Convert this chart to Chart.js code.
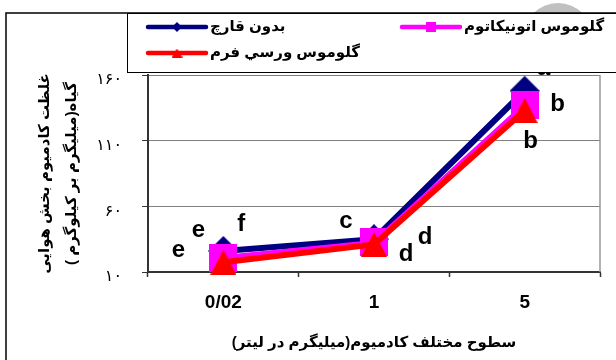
<!DOCTYPE html>
<html>
<head>
<meta charset="utf-8">
<style>
  html, body { margin: 0; padding: 0; background: #fff; }
</style>
<script src="https://cdn.jsdelivr.net/npm/chart.js@4.4.0/dist/chart.umd.min.js"></script>
</head>
<body>
<canvas id="chart" width="616" height="360"></canvas>
<script>
// data
const categories = ['0/02', '1', '5'];
const seriesNames = ['بدون قارچ', 'گلوموس اتونیکاتوم', 'گلوموس ورسي فرم'];
const noFungus = [26, 35, 148];
const etunicatum = [21, 32.5, 137];
const versiforme = [17.5, 31, 133];
const lettersNoFungus = ['f', 'c', 'a'];
const lettersEtunicatum = ['e', 'd', 'b'];
const lettersVersiforme = ['e', 'd', 'b'];
const yTicks = [10, 60, 110, 160];
const yTickLabels = ['۱۰', '۶۰', '۱۱۰', '۱۶۰'];
const xTitle = 'سطوح مختلف کادمیوم(میلیگرم در لیتر)';
const yTitle = ['غلظت کادمیوم بخش هوایی', 'گیاه(میلیگرم بر کیلوگرم )'];

const FONT = "'Liberation Sans', Arial, 'DejaVu Sans', sans-serif";
const colors = ['#000080', '#FF00FF', '#FF0000'];

// letter offsets from each point (px)
const letterOffsets = [
  [[18, -27], [-28, -18], [19, -22]],
  [[-25, -27], [51, -5], [33, -1]],
  [[-45, -12], [32, 10], [6, 31]]
];

function marker(kind, color, w, h) {
  const c = document.createElement('canvas');
  c.width = w; c.height = h;
  const g = c.getContext('2d');
  g.fillStyle = color;
  g.beginPath();
  if (kind === 'diamond') {
    g.moveTo(w / 2, 0); g.lineTo(w, h / 2); g.lineTo(w / 2, h); g.lineTo(0, h / 2);
  } else if (kind === 'square') {
    g.rect(0, 0, w, h);
  } else {
    g.moveTo(w / 2, 0); g.lineTo(w, h); g.lineTo(0, h);
  }
  g.closePath();
  g.fill();
  return c;
}

const bigMarkers = [
  marker('diamond', colors[0], 30, 30),
  marker('square', colors[1], 28, 28),
  marker('triangle', colors[2], 26, 25)
];
const smallMarkers = [
  marker('diamond', colors[0], 10, 10),
  marker('square', colors[1], 10, 10),
  marker('triangle', colors[2], 11, 9)
];

const frame = {
  id: 'frame',
  beforeDraw(chart) {
    const c = chart.ctx;
    c.save();
    c.fillStyle = '#fff';
    c.fillRect(0, 0, chart.width, chart.height);
    c.fillStyle = '#c0c0c0';
    c.beginPath();
    c.arc(558, 38, 35, 0, Math.PI * 2);
    c.fill();
    c.fillStyle = '#fff';
    c.fillRect(6, 13, chart.width, chart.height);
    c.strokeStyle = '#000';
    c.lineWidth = 1.5;
    c.beginPath();
    c.moveTo(6, chart.height);
    c.lineTo(6, 13);
    c.lineTo(chart.width, 13);
    c.stroke();
    c.restore();
  },
  beforeDatasetsDraw(chart) {
    const a = chart.chartArea, c = chart.ctx;
    c.save();
    c.strokeStyle = '#999';
    c.lineWidth = 1.5;
    c.beginPath();
    c.moveTo(a.right, a.top);
    c.lineTo(a.right, a.bottom);
    c.stroke();
    c.restore();
  },
  afterDatasetsDraw(chart) {
    const c = chart.ctx;
    const letters = [lettersNoFungus, lettersEtunicatum, lettersVersiforme];
    c.save();
    c.fillStyle = '#000';
    c.font = 'bold 24px ' + FONT;
    c.textAlign = 'center';
    c.textBaseline = 'middle';
    letters.forEach((arr, d) => {
      const meta = chart.getDatasetMeta(d);
      arr.forEach((t, i) => {
        const p = meta.data[i];
        c.fillText(t, p.x + letterOffsets[d][i][0], p.y + letterOffsets[d][i][1]);
      });
    });
    c.restore();
  },
  afterDraw(chart) {
    const c = chart.ctx;
    c.save();
    c.fillStyle = '#fff';
    c.fillRect(127, 13, chart.width - 127, 60);
    c.strokeStyle = '#000';
    c.lineWidth = 1;
    c.strokeRect(127.5, 13.5, chart.width, 59);
    const spots = [[148, 27], [402, 27], [148, 53]];
    c.font = 'bold 15px ' + FONT;
    c.textBaseline = 'middle';
    c.textAlign = 'left';
    spots.forEach(([x, y], i) => {
      c.strokeStyle = colors[i];
      c.lineWidth = 4.5;
      c.lineCap = 'round';
      c.beginPath();
      c.moveTo(x, y);
      c.lineTo(x + 58, y);
      c.stroke();
      const m = smallMarkers[i];
      c.drawImage(m, x + 29 - m.width / 2, y - m.height / 2);
      c.fillStyle = '#000';
      c.fillText(chart.data.datasets[i].label, x + 62, y);
    });
    c.restore();
  }
};

const values = [noFungus, etunicatum, versiforme];
const widths = [6, 5, 6];

new Chart(document.getElementById('chart'), {
  type: 'line',
  data: {
    labels: categories,
    datasets: values.map((v, i) => ({
      label: seriesNames[i],
      data: v,
      borderColor: colors[i],
      backgroundColor: colors[i],
      borderWidth: widths[i],
      pointStyle: bigMarkers[i],
      pointRadius: 10,
      pointHoverRadius: 10,
      tension: 0,
      clip: false,
      order: 3 - i
    }))
  },
  options: {
    responsive: false,
    animation: false,
    devicePixelRatio: 1,
    layout: { padding: { top: 75, right: 8, left: 0, bottom: 0 } },
    plugins: { legend: { display: false }, tooltip: { enabled: false } },
    scales: {
      x: {
        offset: true,
        grid: { offset: true, drawOnChartArea: false, tickLength: 5, tickColor: '#333', tickWidth: 1.5 },
        border: { color: '#333', width: 2 },
        ticks: { color: '#000', font: { family: FONT, size: 19, weight: 'bold' }, padding: 14 },
        title: {
          display: true, text: xTitle, color: '#000',
          font: { family: FONT, size: 15, weight: 'bold' },
          padding: { top: 0, bottom: 8 }
        },
        afterFit(s) { s.height = 88; }
      },
      y: {
        min: yTicks[0],
        max: yTicks[yTicks.length - 1],
        afterBuildTicks(s) { s.ticks = yTicks.map(v => ({ value: v })); },
        ticks: {
          color: '#000',
          font: { family: FONT, size: 16 },
          padding: 20,
          labelOffset: 5,
          callback: v => yTickLabels[yTicks.indexOf(v)]
        },
        grid: { color: '#808080', lineWidth: 1, tickLength: 6, tickColor: '#333' },
        border: { color: '#333', width: 2 },
        title: {
          display: true, text: yTitle, color: '#000',
          font: { family: FONT, size: 15, weight: 'bold', lineHeight: 1.8 },
          padding: { top: 31, bottom: 0 }
        },
        afterFit(s) { s.width = 148; }
      }
    }
  },
  plugins: [frame]
});
</script>
</body>
</html>
